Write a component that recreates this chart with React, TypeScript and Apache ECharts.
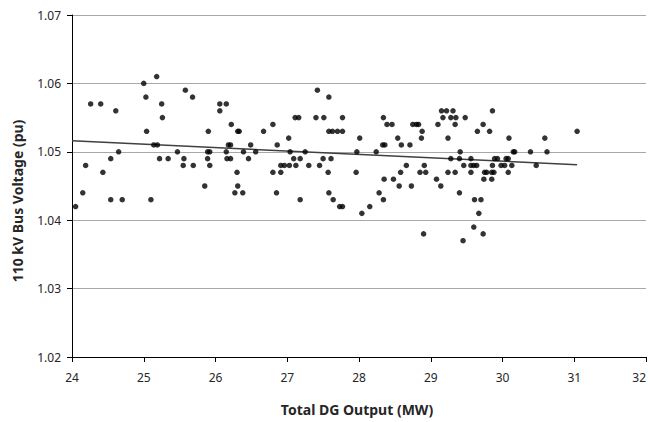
import React, { useEffect, useRef } from "react";
import * as echarts from "echarts";

const xTicks = [24, 25, 26, 27, 28, 29, 30, 31, 32];
const yTicks = [1.02, 1.03, 1.04, 1.05, 1.06, 1.07];

const dgOutput = [
  24.05, 24.15, 24.19, 24.26, 24.40, 24.43, 24.54, 24.54, 24.61, 24.65, 24.70,
  25.00, 25.03, 25.04, 25.10, 25.14, 25.19, 25.18, 25.25, 25.26, 25.22, 25.34,
  25.47, 25.58, 25.68, 25.56, 25.55, 25.69, 25.85, 25.90, 25.89, 25.92, 25.89, 25.92,
  26.06, 26.15, 26.06, 26.22, 26.31, 26.33, 26.15, 26.18, 26.21, 26.16, 26.21, 26.30,
  26.31, 26.27, 26.38, 26.39, 26.46, 26.49, 26.56, 26.67, 26.80, 26.86, 26.80, 26.85,
  26.91, 26.96, 26.91,
  27.02, 27.04, 27.03, 27.12, 27.09, 27.18, 27.18, 27.25, 27.30, 27.11, 27.16, 27.42,
  27.58, 27.40, 27.51, 27.77, 27.58, 27.63, 27.70, 27.77, 27.45, 27.50, 27.61, 27.57,
  27.58, 27.64, 27.73, 27.77, 27.96, 27.97,
  28.01, 28.04, 28.15, 28.24, 28.28, 28.34, 28.33, 28.36, 28.34, 28.39, 28.46, 28.35,
  28.48, 28.54, 28.59, 28.71, 28.56, 28.58, 28.66, 28.73, 28.75, 28.80, 28.83, 28.88,
  28.87, 28.85, 28.93, 28.91, 28.90,
  29.08, 29.14, 29.10, 29.15, 29.22, 29.17, 29.24, 29.28, 29.35, 29.31, 29.34, 29.24,
  29.34, 29.28, 29.40, 29.41, 29.40, 29.45, 29.46, 29.48, 29.56, 29.56, 29.60, 29.64,
  29.56, 29.65, 29.61, 29.70, 29.67, 29.60, 29.73, 29.73, 29.82, 29.86, 29.74, 29.85,
  29.75, 29.78, 29.85, 29.88, 29.86, 29.89, 29.93, 29.98,
  30.03, 30.09, 30.05, 30.08, 30.13, 30.08, 30.15, 30.17, 30.39, 30.47, 30.59, 30.62,
  31.04,
];

const busVoltage = [
  1.042, 1.044, 1.048, 1.057, 1.057, 1.047, 1.049, 1.043, 1.056, 1.050, 1.043,
  1.060, 1.058, 1.053, 1.043, 1.051, 1.051, 1.061, 1.057, 1.055, 1.049, 1.049,
  1.050, 1.059, 1.058, 1.049, 1.048, 1.048, 1.045, 1.053, 1.050, 1.050, 1.049, 1.048,
  1.057, 1.057, 1.056, 1.054, 1.053, 1.053, 1.050, 1.051, 1.051, 1.049, 1.049, 1.047,
  1.045, 1.044, 1.044, 1.050, 1.049, 1.051, 1.050, 1.053, 1.054, 1.051, 1.047, 1.044,
  1.048, 1.048, 1.047,
  1.052, 1.050, 1.048, 1.048, 1.049, 1.049, 1.043, 1.050, 1.048, 1.055, 1.055, 1.059,
  1.058, 1.055, 1.055, 1.055, 1.053, 1.053, 1.053, 1.053, 1.048, 1.049, 1.049, 1.047,
  1.044, 1.043, 1.042, 1.042, 1.047, 1.050,
  1.052, 1.041, 1.042, 1.050, 1.044, 1.043, 1.051, 1.051, 1.055, 1.054, 1.054, 1.046,
  1.046, 1.052, 1.051, 1.051, 1.045, 1.047, 1.048, 1.045, 1.054, 1.054, 1.054, 1.053,
  1.052, 1.047, 1.047, 1.048, 1.038,
  1.046, 1.045, 1.054, 1.056, 1.056, 1.055, 1.052, 1.055, 1.055, 1.056, 1.054, 1.047,
  1.047, 1.049, 1.049, 1.050, 1.044, 1.037, 1.048, 1.055, 1.049, 1.048, 1.048, 1.048,
  1.047, 1.053, 1.043, 1.043, 1.041, 1.039, 1.038, 1.054, 1.053, 1.056, 1.046, 1.046,
  1.047, 1.047, 1.047, 1.047, 1.048, 1.049, 1.049, 1.048,
  1.048, 1.052, 1.049, 1.049, 1.048, 1.047, 1.050, 1.050, 1.050, 1.048, 1.052, 1.050,
  1.053,
];

const trendX = [24.0, 31.04];
const trendY = [1.0516, 1.0481];

const font = "'Noto Sans', 'Open Sans', sans-serif";

export default function App() {
  const ref = useRef<HTMLDivElement>(null);

  useEffect(() => {
    if (!ref.current) return;
    const chart = echarts.init(ref.current, undefined, { renderer: "svg" });
    const points = dgOutput.map((x, i) => [x, busVoltage[i]]);
    const trend = trendX.map((x, i) => [x, trendY[i]]);
    chart.setOption({
      animation: false,
      backgroundColor: "#ffffff",
      grid: {
        left: 72,
        right: 4,
        top: 15,
        bottom: 65,
        containLabel: false,
        outerBoundsMode: "none",
      },
      xAxis: {
        type: "value",
        min: xTicks[0],
        max: xTicks[xTicks.length - 1],
        interval: 1,
        axisLine: { show: true, onZero: false, lineStyle: { color: "#000", width: 1 } },
        axisTick: { show: true, length: 5, lineStyle: { color: "#000" } },
        axisLabel: {
          color: "#262626",
          fontSize: 12,
          fontFamily: font,
          margin: 14,
          alignMaxLabel: "right",
        },
        splitLine: { show: false },
      },
      yAxis: {
        type: "value",
        min: yTicks[0],
        max: yTicks[yTicks.length - 1],
        interval: 0.01,
        axisLine: { show: true, onZero: false, lineStyle: { color: "#000", width: 1 } },
        axisTick: { show: true, length: 5, lineStyle: { color: "#000" } },
        axisLabel: {
          color: "#262626",
          fontSize: 12,
          fontFamily: font,
          margin: 11,
          formatter: (v: number) => v.toFixed(2),
        },
        splitLine: { show: true, lineStyle: { color: "#a8a8a8", width: 1 } },
      },
      graphic: [
        {
          type: "text",
          x: 17,
          y: 201,
          rotation: Math.PI / 2,
          style: {
            text: "110 kV Bus Voltage (pu)",
            font: `bold 14px ${font}`,
            fill: "#262626",
            align: "center",
            verticalAlign: "middle",
          },
        },
        {
          type: "text",
          x: 357,
          y: 409,
          style: {
            text: "Total DG Output (MW)",
            font: `bold 14px ${font}`,
            fill: "#262626",
            align: "center",
            verticalAlign: "middle",
          },
        },
      ],
      series: [
        {
          type: "scatter",
          data: points,
          symbol: "circle",
          symbolSize: 5.5,
          itemStyle: { color: "#000000" },
          z: 3,
        },
        {
          type: "line",
          data: trend,
          showSymbol: false,
          symbol: "none",
          lineStyle: { color: "#404040", width: 1.5 },
          z: 2,
        },
      ],
    });
    return () => chart.dispose();
  }, []);

  return (
    <div
      ref={ref}
      style={{ position: "fixed", left: 0, top: 0, width: 650, height: 422 }}
    />
  );
}
